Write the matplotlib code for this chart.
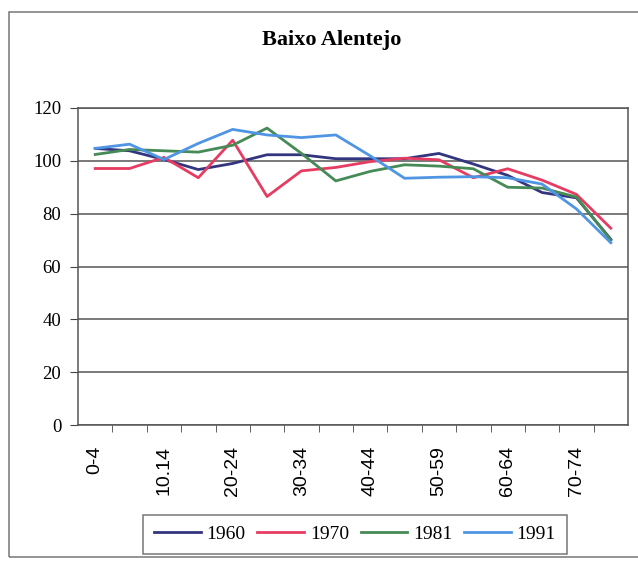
import matplotlib
matplotlib.use('Agg')
import matplotlib.pyplot as plt
from matplotlib.patches import Rectangle

AGE_GROUPS = ['0-4', '5-9', '10.14', '15-19', '20-24', '25-29', '30-34', '35-39',
              '40-44', '45-49', '50-59', '55-59', '60-64', '65-69', '70-74', '75-79']
Y_1960 = [104.7, 103.8, 100.5, 96.7, 99.0, 102.3, 102.3, 100.8,
          100.8, 100.8, 102.8, 98.8, 94.5, 88.0, 86.0, 70.3]
Y_1970 = [97.1, 97.1, 101.3, 93.6, 107.8, 86.5, 96.2, 97.5,
          99.7, 101.0, 100.4, 93.6, 97.0, 92.7, 87.3, 74.5]
Y_1981 = [102.4, 104.3, 103.8, 103.3, 105.9, 112.4, 102.8, 92.4,
          96.0, 98.5, 98.0, 97.0, 90.0, 89.7, 86.3, 70.0]
Y_1991 = [104.7, 106.3, 100.5, 106.6, 111.9, 109.8, 108.8, 109.8,
          101.9, 93.4, 93.8, 94.0, 93.6, 91.2, 81.8, 69.0]
SERIES = [('1960', Y_1960, '#33357f'), ('1970', Y_1970, '#e63c62'),
          ('1981', Y_1981, '#468a55'), ('1991', Y_1991, '#4f95e3')]
Y_TICKS = [0, 20, 40, 60, 80, 100, 120]

W, H = 638, 562
fig = plt.figure(figsize=(W / 100, H / 100), dpi=100)
ax = fig.add_axes([78 / W, 1 - 425 / H, (628 - 78) / W, (425 - 108) / H])

x = list(range(len(AGE_GROUPS)))
for name, ys, col in SERIES:
    ax.plot(x, ys, color=col, lw=2.0, label=name)

ax.set_xlim(-0.5, len(AGE_GROUPS) - 0.5)
ax.set_ylim(0, 120)
ax.set_yticks(Y_TICKS)
ax.set_yticklabels([str(t) for t in Y_TICKS], family='Liberation Serif', fontsize=13.5)
ax.yaxis.grid(True, color='#555555', lw=1.1)
ax.set_axisbelow(True)

ax.set_xticks(x[::2])
ax.set_xticklabels(AGE_GROUPS[::2], rotation=90, family='Liberation Sans', fontsize=14)
ax.set_xticks([i + 0.5 for i in x[:-1]], minor=True)
ax.tick_params(axis='x', which='major', length=0, pad=15)
ax.tick_params(axis='x', which='minor', length=5, color='#444444')
ax.tick_params(axis='y', length=6, color='#444444', pad=6)
for s in ax.spines.values():
    s.set_color('#555555')
    s.set_linewidth(1.1)

fig.text(332 / W, 1 - 40 / H, 'Baixo Alentejo', ha='center', va='center',
         family='Liberation Serif', fontweight='bold', fontsize=16)

leg = fig.legend(loc='center', bbox_to_anchor=(355 / W, 1 - 534 / H), ncol=4,
                 prop={'family': 'Liberation Serif', 'size': 14},
                 handlelength=2.4, handletextpad=0.3, columnspacing=0.6,
                 frameon=True, fancybox=False, borderpad=0.55)
leg.get_frame().set_edgecolor('#555555')
leg.get_frame().set_linewidth(1.1)

fig.patches.append(Rectangle((9 / W, 1 - 557 / H), 1.0, (557 - 12) / H,
                             transform=fig.transFigure, fill=False,
                             edgecolor='#777777', lw=1.1))

fig.savefig('out.png', dpi=100)
